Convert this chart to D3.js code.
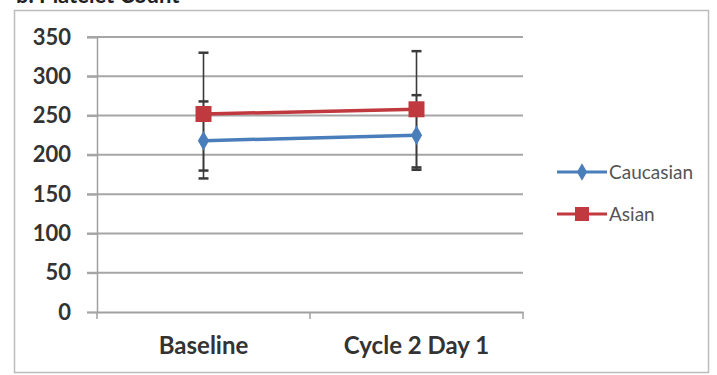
<!DOCTYPE html>
<html>
<head>
<meta charset="utf-8">
<script src="https://cdn.jsdelivr.net/npm/d3@7"></script>
<style>
  body { margin: 0; background: #fff; }
  svg { display: block; }
  .tick text { font-family: Lato, "Open Sans", sans-serif; }
</style>
</head>
<body>
<div id="graphWrapper"></div>
<script>
// categories and series values
var categories = ["Baseline", "Cycle 2 Day 1"];
var seriesNames = ["Caucasian", "Asian"];
var caucasian = [218, 225];
var asian = [252, 258];
// error bar ends
var caucasianLow = [170, 181];
var caucasianHigh = [268, 276];
var asianLow = [180, 184];
var asianHigh = [330, 332];
var yTicks = [0, 50, 100, 150, 200, 250, 300, 350];

var w = 717, h = 375;
var margin = { top: 37, bottom: 63, left: 97, right: 194 };
var width = w - margin.left - margin.right;
var height = h - margin.top - margin.bottom;

var svg = d3.select("#graphWrapper").append("svg")
    .attr("width", w)
    .attr("height", h);

// outer chart border
svg.append("rect")
    .attr("x", 14.5).attr("y", 10.5)
    .attr("width", 694).attr("height", 362)
    .attr("fill", "none")
    .attr("stroke", "#bdbdbd")
    .attr("stroke-width", 1.5);

// title, cut off at the top of the picture as in the source
svg.append("text")
    .attr("x", 16).attr("y", 3)
    .style("font-family", "Lato, sans-serif")
    .style("font-weight", "bold")
    .style("font-size", "22px")
    .style("fill", "#222")
    .text("b. Platelet Count");

var chart = svg.append("g")
    .attr("transform", "translate(" + margin.left + "," + margin.top + ")");

var x = d3.scaleBand()
    .domain(categories)
    .range([0, width]);
var y = d3.scaleLinear()
    .domain([0, 350])
    .range([height, 0]);

function cx(d) { return x(d) + x.bandwidth() / 2; }

// gridlines
chart.append("g")
    .selectAll("line")
    .data(yTicks.slice(1))
    .enter().append("line")
    .attr("x1", -10).attr("x2", width)
    .attr("y1", function(d){ return y(d); })
    .attr("y2", function(d){ return y(d); })
    .attr("stroke", "#a6a6a6")
    .attr("stroke-width", 2);

// y axis
var yAxis = d3.axisLeft(y)
    .tickValues(yTicks)
    .tickSize(10)
    .tickPadding(16);
var gy = chart.append("g").call(yAxis);
gy.select(".domain").attr("stroke", "#a0a0a0").attr("stroke-width", 1.5);
gy.selectAll(".tick line").attr("stroke", "#a6a6a6").attr("stroke-width", 2);
gy.selectAll(".tick text")
    .style("font-size", "22px")
    .style("font-weight", "bold")
    .style("fill", "#333");

// x axis
var xAxis = d3.axisBottom(x)
    .tickSize(0)
    .tickPadding(25);
var gx = chart.append("g")
    .attr("transform", "translate(0," + height + ")")
    .call(xAxis);
gx.select(".domain").attr("stroke", "#a0a0a0").attr("stroke-width", 2);
gx.selectAll(".tick text")
    .style("font-size", "24px")
    .style("font-weight", "bold")
    .style("fill", "#333");
// category boundary tick marks
gx.selectAll(".boundary")
    .data([0, 1, 2])
    .enter().append("line")
    .attr("x1", function(d){ return d * x.bandwidth(); })
    .attr("x2", function(d){ return d * x.bandwidth(); })
    .attr("y1", 0).attr("y2", 7)
    .attr("stroke", "#a0a0a0")
    .attr("stroke-width", 1.5);

// error bars
function errorBars(low, high) {
    var g = chart.append("g").attr("stroke", "#3a3a3a");
    categories.forEach(function(c, i){
        g.append("line")
            .attr("x1", cx(c)).attr("x2", cx(c))
            .attr("y1", y(low[i])).attr("y2", y(high[i]))
            .attr("stroke-width", 1.6);
        [low[i], high[i]].forEach(function(v){
            g.append("line")
                .attr("x1", cx(c) - 5).attr("x2", cx(c) + 5)
                .attr("y1", y(v)).attr("y2", y(v))
                .attr("stroke-width", 2.5);
        });
    });
}
errorBars(caucasianLow, caucasianHigh);
errorBars(asianLow, asianHigh);

var line = d3.line()
    .x(function(d, i){ return cx(categories[i]); })
    .y(function(d){ return y(d); });

var blue = "#4a7ebb", red = "#c0393f";

// Caucasian series
chart.append("path")
    .datum(caucasian)
    .attr("d", line)
    .attr("fill", "none")
    .attr("stroke", blue)
    .attr("stroke-width", 3.5);
var diamond = d3.symbol().type(d3.symbolDiamond).size(110);
chart.selectAll(".cau")
    .data(caucasian)
    .enter().append("path")
    .attr("transform", function(d, i){ return "translate(" + cx(categories[i]) + "," + y(d) + ")"; })
    .attr("d", diamond)
    .attr("fill", blue);

// Asian series
chart.append("path")
    .datum(asian)
    .attr("d", line)
    .attr("fill", "none")
    .attr("stroke", red)
    .attr("stroke-width", 3.5);
chart.selectAll(".asi")
    .data(asian)
    .enter().append("rect")
    .attr("x", function(d, i){ return cx(categories[i]) - 8; })
    .attr("y", function(d){ return y(d) - 8; })
    .attr("width", 16).attr("height", 16)
    .attr("fill", red);

// legend
var legend = svg.append("g").attr("transform", "translate(557,172)");
var colors = [blue, red];
seriesNames.forEach(function(name, i){
    var g = legend.append("g").attr("transform", "translate(0," + i * 42 + ")");
    g.append("line")
        .attr("x1", 0).attr("x2", 50)
        .attr("stroke", colors[i])
        .attr("stroke-width", 3);
    if (i === 0) {
        g.append("path")
            .attr("transform", "translate(25,0)")
            .attr("d", d3.symbol().type(d3.symbolDiamond).size(90))
            .attr("fill", colors[i]);
    } else {
        g.append("rect")
            .attr("x", 18).attr("y", -7)
            .attr("width", 14).attr("height", 14)
            .attr("fill", colors[i]);
    }
    g.append("text")
        .attr("x", 52).attr("y", 0)
        .attr("dy", "0.35em")
        .style("font-family", "Lato, sans-serif")
        .style("font-size", "19px")
        .style("fill", "#555")
        .text(name);
});
</script>
</body>
</html>
